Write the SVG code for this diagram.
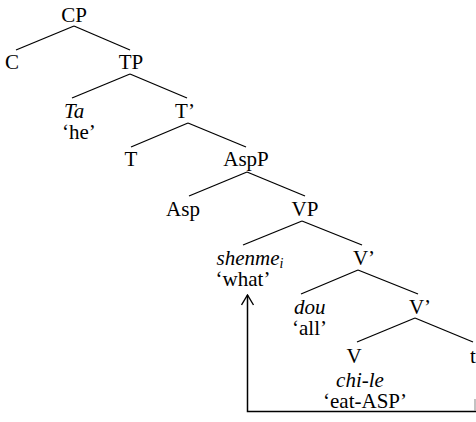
<svg xmlns="http://www.w3.org/2000/svg" width="476" height="422" viewBox="0 0 476 422">
<style>
text{font-family:"Liberation Serif","Times New Roman",serif;font-size:21px;fill:#000}
.m{text-anchor:middle}
.i{font-style:italic}
.e line{stroke:#000;stroke-width:1.3}
</style>
<defs>
<marker id="ah" viewBox="0 0 12 14" refX="11" refY="7" markerWidth="12" markerHeight="14" markerUnits="userSpaceOnUse" orient="auto">
<path d="M1,1 L11,7 L1,13" fill="none" stroke="#000" stroke-width="1.4"/>
</marker>
</defs>
<rect width="476" height="422" fill="#fff"/>
<g id="edges" class="e">
<line x1="74" y1="26" x2="16" y2="50"/>
<line x1="74" y1="26" x2="130" y2="50"/>
<line x1="130" y1="74" x2="72" y2="98"/>
<line x1="130" y1="74" x2="187" y2="98"/>
<line x1="188" y1="123" x2="131" y2="147"/>
<line x1="188" y1="123" x2="246" y2="147"/>
<line x1="247" y1="172" x2="189" y2="196"/>
<line x1="247" y1="172" x2="305" y2="196"/>
<line x1="302" y1="221" x2="243" y2="245"/>
<line x1="302" y1="221" x2="362" y2="245"/>
<line x1="358" y1="270" x2="301" y2="294"/>
<line x1="358" y1="270" x2="418" y2="294"/>
<line x1="415" y1="318" x2="357" y2="342"/>
<line x1="415" y1="318" x2="473" y2="342"/>
</g>
<g id="movement">
<polyline points="476,411.5 247.5,411.5 247.5,295" fill="none" stroke="#000" stroke-width="1.5" marker-end="url(#ah)"/>
<line x1="475" y1="399" x2="475" y2="411" stroke="#999" stroke-width="1.2"/>
</g>
<g id="CP"><text class="m" x="74" y="22">CP</text></g>
<g id="C"><text x="5" y="69">C</text></g>
<g id="TP"><text class="m" x="131" y="69">TP</text></g>
<g id="Ta"><text class="i" x="64" y="118">Ta</text><text x="62" y="139">‘he’</text></g>
<g id="Tbar"><text class="m" x="185" y="118">T’</text></g>
<g id="T"><text class="m" x="131" y="166">T</text></g>
<g id="AspP"><text class="m" x="246" y="166">AspP</text></g>
<g id="Asp"><text class="m" x="183" y="216">Asp</text></g>
<g id="VP"><text class="m" x="305" y="216">VP</text></g>
<g id="shenme"><text class="m i" x="250" y="265">shenme<tspan font-size="14" dy="3">i</tspan></text><text class="m" x="243" y="286">‘what’</text></g>
<g id="Vbar1"><text class="m" x="364" y="265">V’</text></g>
<g id="dou"><text class="i" x="294" y="314">dou</text><text x="292" y="335">‘all’</text></g>
<g id="Vbar2"><text class="m" x="420" y="314">V’</text></g>
<g id="V"><text class="m" x="354" y="363">V</text></g>
<g id="t"><text x="470" y="363">t</text></g>
<g id="chile"><text class="m i" x="360" y="387">chi-le</text><text class="m" x="365" y="408">‘eat-ASP’</text></g>
</svg>
